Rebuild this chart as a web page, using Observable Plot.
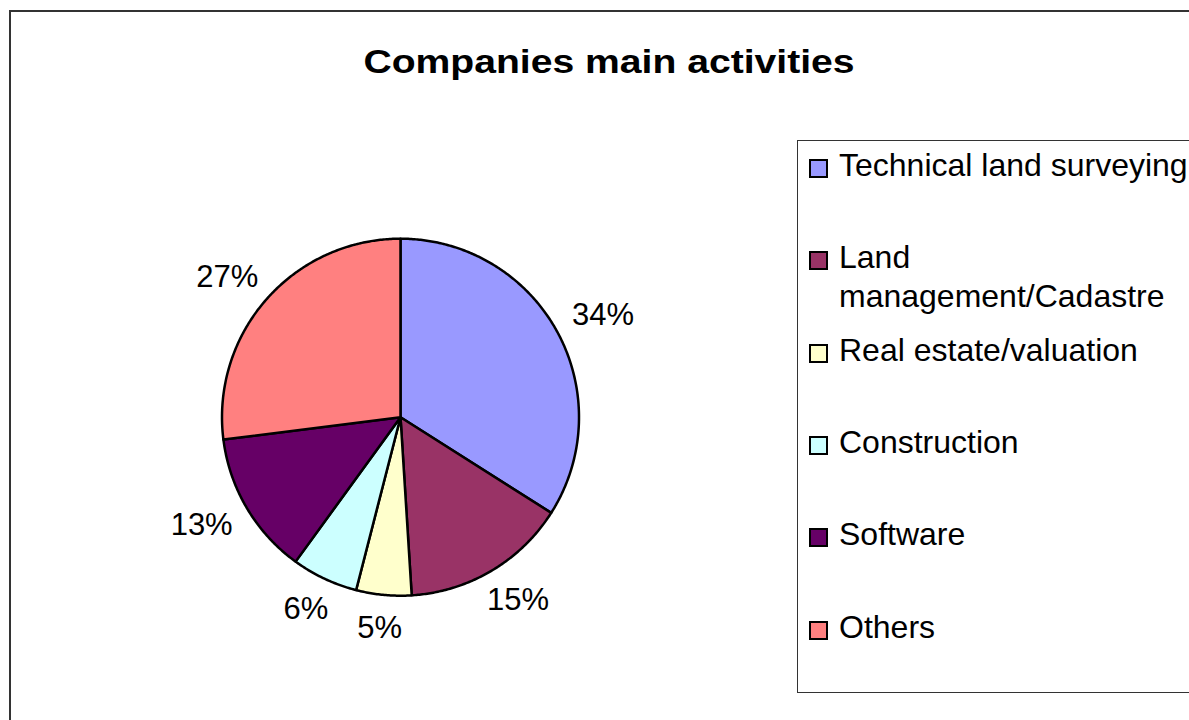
<!DOCTYPE html>
<html>
<head>
<meta charset="utf-8">
<script src="https://cdn.jsdelivr.net/npm/d3@7"></script>
<script src="https://cdn.jsdelivr.net/npm/@observablehq/plot@0.6"></script>
<style>
  body { margin: 0; background: #fff; font-family: "Liberation Sans", Arial, sans-serif; }
  #wrap { position: relative; width: 1189px; height: 720px; overflow: hidden; background: #fff; }
  #chart { position: absolute; left: 0; top: 0; }
  #frame { position: absolute; left: 9px; top: 10px; width: 1300px; height: 800px; border: 2px solid #333; box-sizing: border-box; pointer-events: none; }
  #title { position: absolute; left: 609px; top: 44px; font-weight: bold; font-size: 34px; line-height: 34px; white-space: nowrap; transform: translateX(-50%) scaleX(1.15); color: #000; }
  #legendBox { position: absolute; left: 797px; top: 140px; width: 500px; height: 553px; border: 1px solid #333; box-sizing: border-box; }
  .sq { position: absolute; left: 809px; width: 19px; height: 19px; border: 2px solid #000; box-sizing: border-box; }
  .lt { position: absolute; left: 839px; width: 362px; font-size: 32px; line-height: 39px; color: #000; }
</style>
</head>
<body>
<div id="wrap">
  <div id="chart"></div>
  <div id="frame"></div>
  <div id="title"></div>
  <div id="legendBox"></div>
</div>
<script>
const title = "Companies main activities";
const categories = ["Technical land surveying", "Land management/Cadastre", "Real estate/valuation", "Construction", "Software", "Others"];
const shares = [34, 15, 5, 6, 13, 27];
const labels = ["34%", "15%", "5%", "6%", "13%", "27%"];
const colors = ["#9999FF", "#993366", "#FFFFCC", "#CCFFFF", "#660066", "#FF8080"];

const R = 178.5, cx = 400, cy = 416.7;
const labelFont = 31;
const labelGap = 21.5;   // px between circle and label box
const labelCapH = 24;    // px

const total = d3.sum(shares);
let acc = 0;
const slicePts = [];
const labelPts = [];
shares.forEach((v, i) => {
  const a0 = acc / total * 2 * Math.PI;
  const a1 = (acc + v) / total * 2 * Math.PI;
  acc += v;
  const n = Math.max(2, Math.ceil((a1 - a0) / (Math.PI / 360)));
  slicePts.push({cat: categories[i], x: 0, y: 0});
  for (let k = 0; k <= n; k++) {
    const a = a0 + (a1 - a0) * k / n;
    slicePts.push({cat: categories[i], x: Math.sin(a), y: Math.cos(a)});
  }
  slicePts.push({cat: categories[i], x: 0, y: 0});
  // label box placed just outside the slice's mid-angle point
  const am = (a0 + a1) / 2;
  const ux = Math.sin(am), uy = Math.cos(am);
  const w = (0.556 * (labels[i].length - 1) + 0.889) * labelFont;
  const px = (R + labelGap + w / 2) * ux;
  const py = (R + labelGap + labelCapH / 2) * uy;
  labelPts.push({label: labels[i], x: px / R, y: py / R});
});

const chart = Plot.plot({
  width: 1189,
  height: 720,
  margin: 0,
  style: {background: "transparent", fontFamily: "'Liberation Sans', Arial, sans-serif", overflow: "visible"},
  x: {domain: [-1, 1], range: [cx - R, cx + R], axis: null},
  y: {domain: [-1, 1], range: [cy + R, cy - R], axis: null},
  color: {domain: categories, range: colors},
  marks: [
    Plot.line(slicePts, {x: "x", y: "y", z: "cat", fill: "cat", stroke: "black", strokeWidth: 2.5, strokeLinejoin: "round"}),
    Plot.text(labelPts, {x: "x", y: "y", text: "label", fontSize: labelFont, fill: "black"})
  ]
});
document.getElementById("chart").append(chart);
document.getElementById("title").textContent = title;

const wrap = document.getElementById("wrap");
categories.forEach((c, i) => {
  const base = 177 + i * 92.3;
  const sq = document.createElement("div");
  sq.className = "sq";
  sq.style.background = colors[i];
  sq.style.top = (base - 18) + "px";
  const tx = document.createElement("div");
  tx.className = "lt";
  tx.textContent = c;
  tx.style.top = (base - 31) + "px";
  wrap.append(sq, tx);
});
</script>
</body>
</html>
